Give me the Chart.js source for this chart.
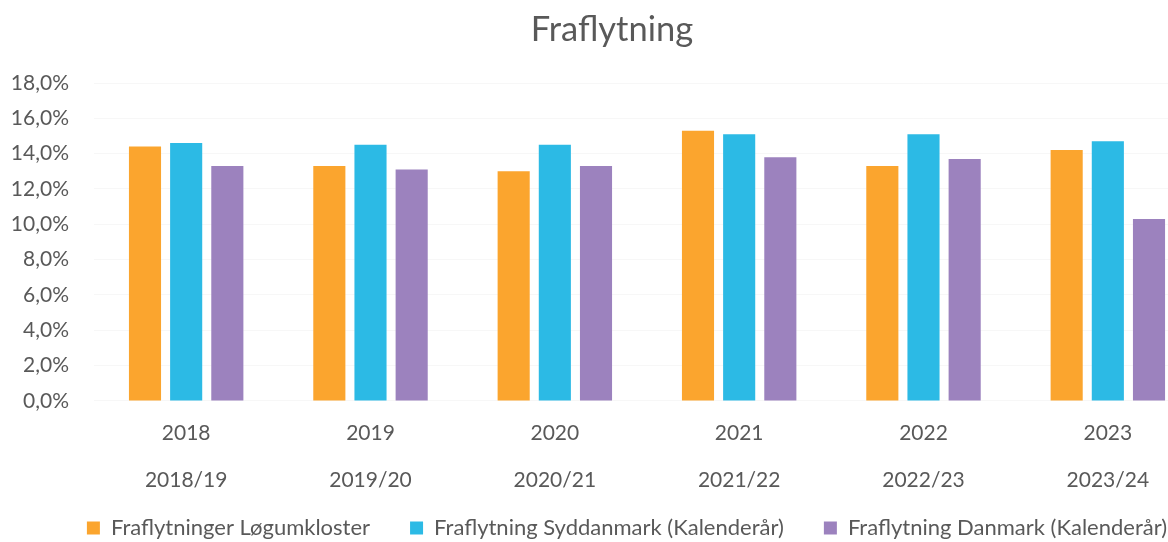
<!DOCTYPE html>
<html><head><meta charset="utf-8">
<script src="https://cdn.jsdelivr.net/npm/chart.js@4.4.0/dist/chart.umd.min.js"></script>
<style>html,body{margin:0;padding:0;background:#fff;overflow:hidden;}#wrap{width:1222px;height:542px;}</style>
</head><body><div id="wrap"><canvas id="c" width="1222" height="542"></canvas></div>
<script>
const years = ['2018','2019','2020','2021','2022','2023'];
const seasons = ['2018/19','2019/20','2020/21','2021/22','2022/23','2023/24'];
const seriesNames = ['Fraflytninger Løgumkloster','Fraflytning Syddanmark (Kalenderår)','Fraflytning Danmark (Kalenderår)'];
const logumkloster = [14.4,13.3,13.0,15.3,13.3,14.2];
const syddanmark = [14.6,14.5,14.5,15.1,15.1,14.7];
const danmark = [13.3,13.1,13.3,13.8,13.7,10.3];
const yMin = 0, yMax = 18, yStep = 2;
const chartTitle = 'Fraflytning';

const colors = ['#FBA52E','#2CBAE5','#9C82BE'];
const FONT = 'Lato';
const TEXT = '#595959';
const LEG_PAD = 40, LEG_FS = 22, LEG_BOX_H = 13, LEG_Y = 528, LEG_SHIFT = 22, TITLE_SHIFT = 7;

const placeBoxes = {
  id: 'placeBoxes',
  afterLayout(chart) {
    const lg = chart.legend;
    if (lg) {
      lg.top = LEG_Y - LEG_PAD - Math.max(LEG_FS, LEG_BOX_H) / 2;
      lg.bottom = chart.height;
      lg.left += LEG_SHIFT;
      lg.right += LEG_SHIFT;
    }
    const tb = chart.titleBlock;
    if (tb) { tb.left += TITLE_SHIFT; tb.right += TITLE_SHIFT; }
  }
};

const labels = years.map((y, i) => [y, seasons[i]]);
const seriesData = [logumkloster, syddanmark, danmark];

new Chart(document.getElementById('c'), {
  type: 'bar',
  data: {
    labels: labels,
    datasets: seriesNames.map((n, i) => ({
      label: n,
      data: seriesData[i],
      backgroundColor: colors[i],
      borderWidth: 0,
      barPercentage: 0.78,
      categoryPercentage: 0.67
    }))
  },
  options: {
    responsive: false,
    animation: false,
    devicePixelRatio: 1,
    layout: { padding: { top: 0, left: 10, right: 22, bottom: 0 } },
    plugins: {
      title: {
        display: true, text: chartTitle, color: TEXT,
        font: { family: FONT, size: 34.5, weight: 'normal', lineHeight: 1.2 },
        padding: { top: 9, bottom: 32.6 }
      },
      legend: {
        position: 'bottom',
        maxHeight: 37,
        labels: {
          color: TEXT, boxWidth: 13, boxHeight: LEG_BOX_H, padding: LEG_PAD,
          font: { family: FONT, size: LEG_FS }
        }
      },
      tooltip: { enabled: false }
    },
    scales: {
      x: {
        grid: { display: false },
        border: { display: false },
        ticks: {
          color: TEXT, padding: 1, maxRotation: 0, autoSkip: false,
          font: { family: FONT, size: 21, lineHeight: 2.24 }
        }
      },
      y: {
        min: yMin, max: yMax,
        afterFit: s => { s.width = 84; },
        grid: { color: 'rgba(0,0,0,0.03)', drawTicks: false },
        border: { display: false },
        ticks: {
          stepSize: yStep, color: TEXT, padding: 25,
          font: { family: FONT, size: 21 },
          callback: v => v.toFixed(1).replace('.', ',') + '%'
        }
      }
    }
  },
  plugins: [placeBoxes]
});
</script></body></html>
